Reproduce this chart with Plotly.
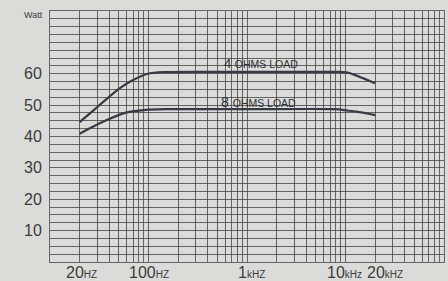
import plotly.graph_objects as go
import math

# ---- data ----
freq_4ohm = [20, 26.9, 34, 50, 69, 98, 144, 300, 1000, 3000, 8700, 10500, 12000, 15000, 20000]
watt_4ohm = [44.6, 48.0, 50.8, 55.2, 57.9, 60.0, 60.5, 60.6, 60.6, 60.6, 60.6, 60.4, 59.8, 58.6, 57.0]

freq_8ohm = [20, 34, 59, 94, 150, 1000, 8000, 10200, 13000, 20000]
watt_8ohm = [40.9, 44.6, 47.6, 48.5, 48.7, 48.7, 48.7, 48.3, 47.9, 46.8]

series_names = ["4 OHMS LOAD", "8 OHMS LOAD"]

x_tick_vals = [20, 100, 1000, 10000, 20000]
x_tick_main = ["20", "100", "1", "10", "20"]
x_tick_unit = ["HZ", "HZ", "kHZ", "kHz", "kHZ"]

y_label_vals = [10, 20, 30, 40, 50, 60]
y_grid_step = 2.5
y_max = 80
x_min, x_max = 10, 100000

bg = "#dbdbd9"
grid = "rgba(60,60,60,0.75)"
curve = "#363a44"
txt = "#3c3c3c"

fig = go.Figure()
fig.add_trace(go.Scatter(x=freq_4ohm, y=watt_4ohm, mode="lines", name=series_names[0],
                         line=dict(color=curve, width=2.2, shape="spline", smoothing=0.6)))
fig.add_trace(go.Scatter(x=freq_8ohm, y=watt_8ohm, mode="lines", name=series_names[1],
                         line=dict(color=curve, width=2.2, shape="spline", smoothing=0.6)))

# y ticks every 2.5 W for the grid, labels only at 10..60
n = int(y_max / y_grid_step)
y_vals = [i * y_grid_step for i in range(n + 1)]
y_text = [str(int(v)) if v in y_label_vals else "" for v in y_vals]

fig.update_layout(
    width=448, height=281,
    margin=dict(l=50, r=4, t=11, b=19),
    paper_bgcolor=bg, plot_bgcolor=bg,
    showlegend=False,
    font=dict(family="Liberation Sans, Arial, sans-serif", color=txt),
)
fig.update_xaxes(type="log", range=[math.log10(x_min), math.log10(x_max)],
                 dtick="D1", showticklabels=False, ticks="",
                 showgrid=True, gridcolor=grid, gridwidth=1,
                 showline=True, linecolor=grid, linewidth=1, mirror=True, zeroline=False)
fig.update_yaxes(range=[0, y_max], tickmode="array", tickvals=y_vals, ticktext=y_text,
                 tickfont=dict(size=16, color=txt), ticks="", ticklabelstandoff=4,
                 automargin=False,
                 showgrid=True, gridcolor=grid, gridwidth=1,
                 showline=True, linecolor=grid, linewidth=1, mirror=True, zeroline=False)

# x tick labels (big number + small unit)
shifts = [2, 0, 4, -1, 10]
for v, m, u, s in zip(x_tick_vals, x_tick_main, x_tick_unit, shifts):
    fig.add_annotation(x=math.log10(v), y=0, xref="x", yref="paper",
                       text=f"{m}<span style='font-size:10px'>{u}</span>",
                       showarrow=False, yanchor="top", yshift=0, xshift=s,
                       font=dict(size=16, color=txt))

# "Watt" unit label
fig.add_annotation(x=0, y=1, xref="paper", yref="paper", text="Watt",
                   showarrow=False, xanchor="right", yanchor="middle", xshift=-5, yshift=-4,
                   font=dict(size=9, color=txt))

# curve labels
fig.add_annotation(x=math.log10(1372), y=63.3, xref="x", yref="y",
                   text="4 <span style='font-size:10.5px'>OHMS LOAD</span>",
                   showarrow=False, font=dict(size=13, color="#2e3038"))
fig.add_annotation(x=math.log10(1320), y=51.0, xref="x", yref="y",
                   text="8 <span style='font-size:10.5px'>OHMS LOAD</span>",
                   showarrow=False, font=dict(size=14, color="#2e3038"))

fig.write_html("out.html", config={"displayModeBar": False},
               post_script="document.body.style.margin='0';document.body.style.overflow='hidden';")
